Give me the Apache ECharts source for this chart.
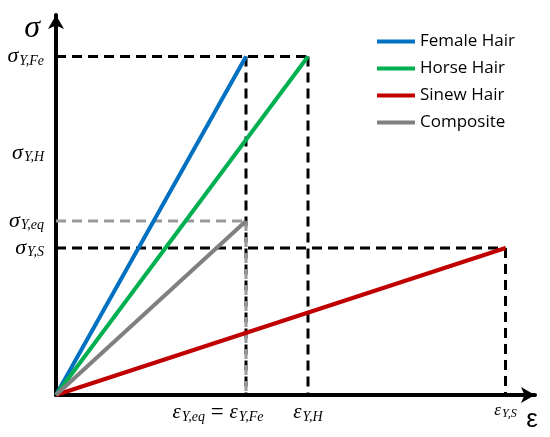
<!DOCTYPE html>
<html>
<head>
<meta charset="utf-8">
<script src="https://cdn.jsdelivr.net/npm/echarts@6/dist/echarts.min.js"></script>
<style>html,body{margin:0;padding:0;background:#fff;}#chart{width:550px;height:437px;}</style>
</head>
<body>
<div id="chart"></div>
<script>
// Series (one straight line from the origin to each yield point)
const seriesNames = ['Female Hair', 'Horse Hair', 'Sinew Hair', 'Composite'];
const seriesColors = ['#0070C0', '#00B050', '#C00000', '#808080'];
const yieldStrain = [1.90, 2.52, 4.495, 1.90];
const yieldStress = [3.385, 3.385, 1.47, 1.74];

// Tick labels
const stressTickValues = [3.385, 2.42, 1.74, 1.47];
const stressTickLabels = ['{s|σ}{sub|Y,Fe}', '{s|σ}{sub|Y,H}', '{s|σ}{sub|Y,eq}', '{s|σ}{sub|Y,S}'];
const strainTickValues = [1.90, 2.52, 4.495];
const strainTickLabels = ['{e|ε}{sub|Y,eq}{eq| = }{e|ε}{sub|Y,Fe}{pad|}', '{e|ε}{sub|Y,H}', '{es|ε}{subs|Y,S}'];

const xMax = 4.79, yMax = 3.80;

function lookup(vals, labels, v) {
  let best = 0, d = Infinity;
  vals.forEach((t, i) => { const dd = Math.abs(t - v); if (dd < d) { d = dd; best = i; } });
  return d < 1e-6 ? labels[best] : '';
}

const serif = 'Liberation Serif';
const richCommon = {
  s: { fontFamily: serif, fontStyle: 'italic', fontSize: 22, color: '#000' },
  e: { fontFamily: serif, fontStyle: 'italic', fontSize: 21, color: '#000' },
  es: { fontFamily: serif, fontStyle: 'italic', fontSize: 17, color: '#000' },
  eq: { fontFamily: serif, fontSize: 23, color: '#000' },
  sub: { fontFamily: serif, fontStyle: 'italic', fontSize: 14, color: '#000', padding: [9, 0, 0, 1] },
  subs: { fontFamily: serif, fontStyle: 'italic', fontSize: 12, color: '#000', padding: [7, 0, 0, 1] },
  pad: { width: 56 }
};

const dashBlack = { color: '#000', width: 3, type: [10, 6] };
const dashGray = { color: '#999', width: 3, type: [10, 6] };

const series = [];
const iFe = 0, iH = 1, iS = 2, iC = 3;
function guide(data, style) {
  series.push({ type: 'line', data: data, symbol: 'none', silent: true, lineStyle: style, z: 1 });
}
guide([[0, yieldStress[iFe]], [yieldStrain[iH], yieldStress[iH]]], dashBlack);
guide([[yieldStrain[iFe], yieldStress[iFe]], [yieldStrain[iFe], 0]], dashBlack);
guide([[yieldStrain[iH], yieldStress[iH]], [yieldStrain[iH], 0]], dashBlack);
guide([[0, yieldStress[iS]], [yieldStrain[iS], yieldStress[iS]]], dashBlack);
guide([[yieldStrain[iS], yieldStress[iS]], [yieldStrain[iS], 0]], dashBlack);
guide([[0, yieldStress[iC]], [yieldStrain[iC], yieldStress[iC]]], dashGray);
guide([[yieldStrain[iC], yieldStress[iC]], [yieldStrain[iC], 0]], dashGray);

seriesNames.forEach((n, i) => {
  series.push({
    name: n, type: 'line', symbol: 'none', z: 3,
    data: [[0, 0], [yieldStrain[i], yieldStress[i]]],
    lineStyle: { color: seriesColors[i], width: 4 },
    itemStyle: { color: seriesColors[i] }
  });
});

const chart = echarts.init(document.getElementById('chart'), null, { renderer: 'canvas' });
chart.setOption({
  animation: false,
  backgroundColor: '#fff',
  grid: { left: 56, right: 15, top: 15, bottom: 42, containLabel: false },
  legend: {
    data: seriesNames,
    orient: 'vertical', left: 372, top: 27,
    icon: 'rect', itemWidth: 38, itemHeight: 4, itemGap: 8,
    textStyle: { fontFamily: 'Open Sans', fontSize: 17, color: '#000', lineHeight: 19 }
  },
  xAxis: {
    type: 'value', min: 0, max: xMax,
    name: 'ε', nameLocation: 'end', nameGap: -3,
    nameTextStyle: { fontFamily: 'Liberation Sans', fontSize: 26, color: '#000', verticalAlign: 'top', align: 'center', padding: [12, 0, 0, 0] },
    axisLine: { show: true, onZero: false, symbol: ['none', 'arrow'], symbolSize: [12, 14], lineStyle: { color: '#000', width: 4 } },
    axisTick: { show: false },
    splitLine: { show: false },
    axisLabel: {
      customValues: strainTickValues, margin: 6,
      formatter: v => lookup(strainTickValues, strainTickLabels, v),
      rich: richCommon
    }
  },
  yAxis: {
    type: 'value', min: 0, max: yMax,
    name: 'σ', nameLocation: 'end', nameGap: -14,
    nameTextStyle: { fontFamily: serif, fontStyle: 'italic', fontSize: 32, color: '#000', align: 'right', verticalAlign: 'middle', padding: [0, 16, 0, 0] },
    axisLine: { show: true, onZero: false, symbol: ['none', 'arrow'], symbolSize: [12, 14], lineStyle: { color: '#000', width: 4 } },
    axisTick: { show: false },
    splitLine: { show: false },
    axisLabel: {
      customValues: stressTickValues, margin: 12,
      formatter: v => lookup(stressTickValues, stressTickLabels, v),
      rich: richCommon
    }
  },
  series: series
});
</script>
</body>
</html>
